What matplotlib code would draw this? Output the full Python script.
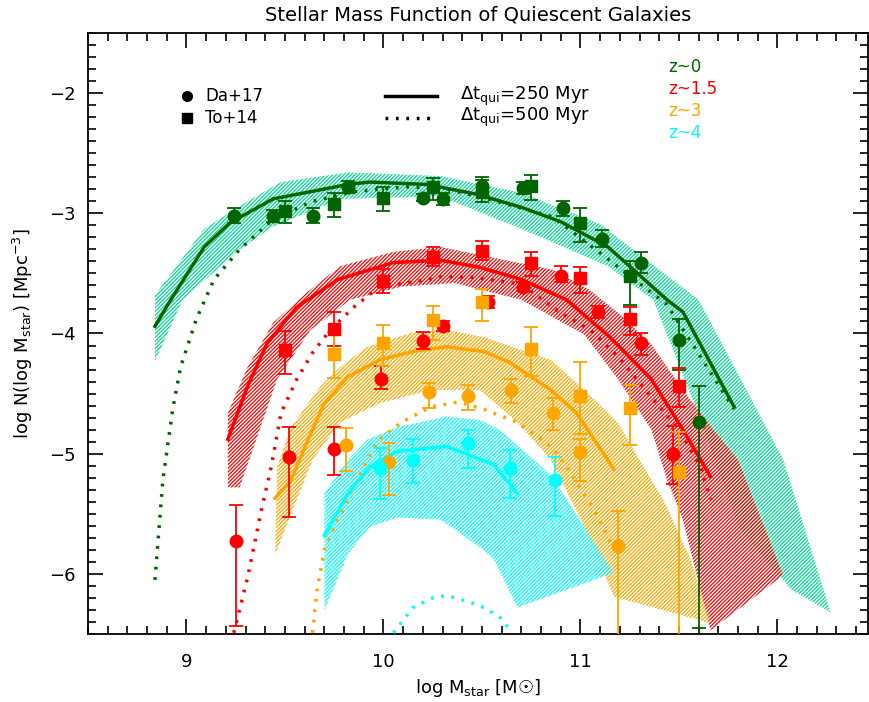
import matplotlib
matplotlib.use('Agg')

import matplotlib.pyplot as plt
import numpy as np
from matplotlib.ticker import MultipleLocator

plt.rcParams['font.family'] = ['DejaVu Sans']
plt.rcParams['hatch.linewidth'] = 0.9

# ---- model curves (dt_qui = 250 Myr, solid) ----
z0_x = [8.84, 8.92, 9.09, 9.22, 9.44, 9.82, 9.93, 10.22, 10.47, 10.70, 10.90, 11.14, 11.44, 11.52, 11.78]
z0_y = [-3.94, -3.72, -3.28, -3.08, -2.88, -2.76, -2.74, -2.76, -2.84, -2.95, -3.07, -3.28, -3.72, -3.82, -4.61]
z15_x = [9.21, 9.31, 9.41, 9.56, 9.77, 10.05, 10.29, 10.49, 10.70, 10.93, 11.15, 11.36, 11.52, 11.66]
z15_y = [-4.88, -4.44, -4.08, -3.78, -3.55, -3.41, -3.39, -3.45, -3.55, -3.72, -4.03, -4.38, -4.80, -5.19]
z3_x = [9.45, 9.53, 9.61, 9.70, 9.82, 9.98, 10.15, 10.32, 10.51, 10.64, 10.85, 10.98, 11.17]
z3_y = [-5.37, -5.22, -4.91, -4.58, -4.36, -4.22, -4.15, -4.11, -4.15, -4.24, -4.47, -4.66, -5.13]
z4_x = [9.70, 9.82, 9.93, 10.07, 10.32, 10.56, 10.68]
z4_y = [-5.68, -5.33, -5.11, -4.98, -4.94, -5.09, -5.33]

# ---- model curves (dt_qui = 500 Myr, dotted) ----
z0d_x = [8.84, 8.88, 8.93, 8.97, 9.05, 9.14, 9.27, 9.44, 9.64, 9.85, 10.12, 10.32, 10.53, 10.86, 11.10, 11.44, 11.78]
z0d_y = [-6.05, -5.22, -4.63, -4.28, -3.88, -3.55, -3.30, -3.05, -2.90, -2.82, -2.78, -2.80, -2.88, -3.03, -3.33, -3.76, -4.63]
z15d_x = [9.24, 9.31, 9.38, 9.43, 9.48, 9.56, 9.64, 9.73, 9.85, 9.98, 10.12, 10.29, 10.44, 10.70, 10.90, 11.05, 11.19, 11.36, 11.50, 11.61, 11.66]
z15d_y = [-6.49, -6.03, -5.47, -5.11, -4.66, -4.38, -4.16, -3.97, -3.78, -3.61, -3.58, -3.53, -3.53, -3.59, -3.83, -3.97, -4.19, -4.53, -4.80, -5.11, -5.38]
z3d_x = [9.64, 9.66, 9.70, 9.75, 9.82, 9.90, 9.98, 10.09, 10.24, 10.38, 10.51, 10.68, 10.85, 10.93, 11.07, 11.15]
z3d_y = [-6.49, -6.16, -5.80, -5.61, -5.38, -5.11, -4.88, -4.74, -4.61, -4.57, -4.63, -4.74, -4.94, -5.11, -5.47, -5.73]
z4d_x = [10.05, 10.15, 10.25, 10.32, 10.43, 10.51, 10.59, 10.65]
z4d_y = [-6.49, -6.28, -6.20, -6.18, -6.23, -6.28, -6.36, -6.48]

# ---- model bands (upper edge, lower edge) ----
z0_band_up_x = [8.84, 9.09, 9.27, 9.48, 9.82, 10.29, 10.70, 11.10, 11.60, 12.03, 12.27]
z0_band_up_y = [-3.68, -3.13, -2.94, -2.74, -2.66, -2.69, -2.83, -3.09, -3.72, -5.05, -6.32]
z0_band_lo_x = [8.84, 8.98, 9.11, 9.27, 9.44, 9.78, 10.29, 10.70, 11.14, 11.37, 11.43, 11.61, 11.81, 12.07]
z0_band_lo_y = [-4.23, -3.72, -3.53, -3.30, -3.11, -2.88, -2.86, -3.13, -3.44, -3.72, -3.97, -4.72, -5.63, -6.13]
z15_band_up_x = [9.21, 9.31, 9.44, 9.61, 9.78, 10.05, 10.29, 10.53, 10.86, 11.04, 11.20, 11.36, 11.52, 11.69, 11.80, 12.03]
z15_band_up_y = [-4.66, -4.28, -3.91, -3.66, -3.44, -3.32, -3.28, -3.36, -3.47, -3.63, -3.84, -4.09, -4.47, -4.83, -5.05, -6.01]
z15_band_lo_x = [9.21, 9.27, 9.46, 9.63, 9.83, 10.09, 10.36, 10.70, 11.02, 11.19, 11.36, 11.44, 11.52, 11.66]
z15_band_lo_y = [-5.28, -5.28, -4.38, -3.97, -3.72, -3.61, -3.58, -3.72, -4.01, -4.38, -4.80, -5.22, -5.55, -6.47]
z3_band_up_x = [9.46, 9.53, 9.68, 9.78, 9.92, 10.15, 10.32, 10.51, 10.85, 11.02, 11.19, 11.32, 11.42, 11.56, 11.66]
z3_band_up_y = [-5.11, -4.78, -4.44, -4.28, -4.11, -3.99, -3.97, -4.03, -4.22, -4.47, -4.74, -5.11, -5.38, -5.88, -6.41]
z3_band_lo_x = [9.45, 9.64, 9.78, 9.98, 10.24, 10.49, 10.68, 10.85, 11.02, 11.17]
z3_band_lo_y = [-5.84, -5.05, -4.74, -4.58, -4.47, -4.47, -4.74, -5.05, -5.61, -6.19]
z4_band_up_x = [9.70, 9.82, 9.92, 10.07, 10.32, 10.49, 10.59, 10.76, 10.85, 11.17]
z4_band_up_y = [-5.33, -5.05, -4.88, -4.78, -4.69, -4.72, -4.80, -5.05, -5.18, -5.99]
z4_band_lo_x = [9.70, 9.82, 9.93, 10.07, 10.29, 10.49, 10.56, 10.68]
z4_band_lo_y = [-6.30, -5.83, -5.61, -5.53, -5.55, -5.78, -5.88, -6.28]

# ---- observations: Da+17 (circles) and To+14 (squares); value, upper, lower ----
z0_da_x = [9.24, 9.44, 9.64, 9.82, 10.20, 10.30, 10.50, 10.71, 10.91, 11.11, 11.31, 11.50, 11.60]
z0_da_y = [-3.02, -3.02, -3.02, -2.78, -2.87, -2.88, -2.77, -2.79, -2.96, -3.21, -3.41, -4.05, -4.74]
z0_da_hi = [-2.96, -2.97, -2.96, -2.73, -2.84, -2.83, -2.70, -2.74, -2.90, -3.14, -3.32, -3.88, -4.44]
z0_da_lo = [-3.08, -3.07, -3.08, -2.83, -2.90, -2.93, -2.84, -2.84, -3.02, -3.28, -3.50, -4.30, -6.45]
z0_to_x = [9.50, 9.75, 10.00, 10.25, 10.50, 10.75, 11.00, 11.25]
z0_to_y = [-2.98, -2.92, -2.87, -2.78, -2.82, -2.77, -3.08, -3.52]
z0_to_hi = [-2.90, -2.83, -2.78, -2.71, -2.72, -2.68, -2.96, -3.40]
z0_to_lo = [-3.08, -3.03, -2.98, -2.89, -2.91, -2.89, -3.24, -3.76]

z15_da_x = [9.25, 9.52, 9.75, 9.99, 10.20, 10.30, 10.53, 10.71, 10.90, 11.09, 11.31, 11.47]
z15_da_y = [-5.73, -5.03, -4.96, -4.38, -4.06, -3.94, -3.74, -3.61, -3.52, -3.82, -4.08, -5.00]
z15_da_hi = [-5.43, -4.78, -4.78, -4.27, -3.99, -3.90, -3.69, -3.57, -3.44, -3.77, -4.00, -4.77]
z15_da_lo = [-6.43, -5.53, -5.18, -4.46, -4.13, -3.98, -3.79, -3.65, -3.57, -3.87, -4.18, -5.25]
z15_to_x = [9.50, 9.75, 10.00, 10.25, 10.50, 10.75, 11.00, 11.25, 11.50]
z15_to_y = [-4.14, -3.96, -3.56, -3.36, -3.31, -3.41, -3.54, -3.88, -4.44]
z15_to_hi = [-3.98, -3.82, -3.46, -3.28, -3.23, -3.32, -3.45, -3.78, -4.29]
z15_to_lo = [-4.34, -4.10, -3.66, -3.44, -3.39, -3.52, -3.66, -4.01, -4.61]

z3_da_x = [9.81, 10.03, 10.23, 10.43, 10.65, 10.86, 11.00, 11.19]
z3_da_y = [-4.93, -5.07, -4.49, -4.52, -4.47, -4.66, -4.99, -5.77]
z3_da_hi = [-4.79, -4.91, -4.41, -4.43, -4.38, -4.54, -4.88, -5.48]
z3_da_lo = [-5.14, -5.34, -4.62, -4.64, -4.58, -4.80, -5.23, -7.00]
z3_to_x = [9.75, 10.00, 10.25, 10.50, 10.75, 11.00, 11.25, 11.50]
z3_to_y = [-4.17, -4.08, -3.89, -3.74, -4.13, -4.52, -4.62, -5.15]
z3_to_hi = [-3.99, -3.93, -3.77, -3.63, -3.95, -4.24, -4.43, -4.82]
z3_to_lo = [-4.37, -4.27, -4.05, -3.90, -4.35, -4.84, -4.93, -7.00]

z4_da_x = [9.98, 10.15, 10.43, 10.64, 10.87]
z4_da_y = [-5.12, -5.05, -4.91, -5.12, -5.22]
z4_da_hi = [-4.95, -4.88, -4.80, -4.97, -5.03]
z4_da_lo = [-5.38, -5.24, -5.12, -5.37, -5.52]

col_green = '#006400'
col_green_band = '#00dd90'
col_red = '#ff0000'
col_orange = '#ffa500'
col_cyan = '#00ffff'


def band(ax, xu, yu, xl, yl, color):
    px = list(xu) + list(xl)[::-1]
    py = list(yu) + list(yl)[::-1]
    ax.fill(px, py, facecolor='none', edgecolor=color, hatch='/' * 9, lw=0, zorder=1)


def obs(ax, x, y, hi, lo, color, marker):
    y = np.array(y)
    err = [y - np.array(lo), np.array(hi) - y]
    ax.errorbar(x, y, yerr=err, fmt=marker, color=color, ms=9, mec=color,
                elinewidth=1.3, capsize=5, capthick=1.3, zorder=4)


fig = plt.figure(figsize=(8.7, 7.02), dpi=100)
ax = fig.add_axes([88 / 870, 68 / 702, 780 / 870, 601 / 702])

band(ax, z0_band_up_x, z0_band_up_y, z0_band_lo_x, z0_band_lo_y, col_green_band)
band(ax, z15_band_up_x, z15_band_up_y, z15_band_lo_x, z15_band_lo_y, col_red)
band(ax, z3_band_up_x, z3_band_up_y, z3_band_lo_x, z3_band_lo_y, col_orange)
band(ax, z4_band_up_x, z4_band_up_y, z4_band_lo_x, z4_band_lo_y, col_cyan)

for xs, ys, xd, yd, c in [(z0_x, z0_y, z0d_x, z0d_y, col_green),
                          (z15_x, z15_y, z15d_x, z15d_y, col_red),
                          (z3_x, z3_y, z3d_x, z3d_y, col_orange),
                          (z4_x, z4_y, z4d_x, z4d_y, col_cyan)]:
    ax.plot(xs, ys, color=c, lw=2.5, zorder=3)
    ax.plot(xd, yd, color=c, lw=2.5, ls=(0, (0.8, 2.2)), zorder=3)

obs(ax, z0_da_x, z0_da_y, z0_da_hi, z0_da_lo, col_green, 'o')
obs(ax, z0_to_x, z0_to_y, z0_to_hi, z0_to_lo, col_green, 's')
obs(ax, z15_da_x, z15_da_y, z15_da_hi, z15_da_lo, col_red, 'o')
obs(ax, z15_to_x, z15_to_y, z15_to_hi, z15_to_lo, col_red, 's')
obs(ax, z3_da_x, z3_da_y, z3_da_hi, z3_da_lo, col_orange, 'o')
obs(ax, z3_to_x, z3_to_y, z3_to_hi, z3_to_lo, col_orange, 's')
obs(ax, z4_da_x, z4_da_y, z4_da_hi, z4_da_lo, col_cyan, 'o')

ax.set_xlim(8.5, 12.46)
ax.set_ylim(-6.5, -1.5)
ax.xaxis.set_major_locator(MultipleLocator(1))
ax.xaxis.set_minor_locator(MultipleLocator(0.1))
ax.yaxis.set_major_locator(MultipleLocator(1))
ax.yaxis.set_minor_locator(MultipleLocator(0.1))
ax.tick_params(which='both', direction='in', top=True, right=True, labelsize=13, width=1.2)
ax.tick_params(axis='x', which='major', length=11, pad=14)
ax.tick_params(axis='y', which='major', length=11, pad=9)
ax.tick_params(which='minor', length=6)
ax.yaxis.set_major_formatter(plt.FuncFormatter(lambda v, p: '\u2212%d' % abs(v) if v < 0 else '%d' % v))
for s in ax.spines.values():
    s.set_linewidth(1.3)

ax.set_title('Stellar Mass Function of Quiescent Galaxies', fontsize=14, pad=9)
ax.set_xlabel('log M$_{\\mathrm{star}}$ [M\u2609]', fontsize=13, labelpad=4)
ax.set_ylabel(r'log N(log M$_{\mathrm{star}}$) [Mpc$^{-3}$]', fontsize=13, labelpad=10)

# legend, drawn by hand
tr = ax.transAxes
ax.plot([0.127], [0.895], 'o', color='k', ms=7, transform=tr)
ax.plot([0.127], [0.859], 's', color='k', ms=7, transform=tr)
ax.text(0.150, 0.895, 'Da+17', fontsize=12, va='center', transform=tr)
ax.text(0.150, 0.859, 'To+14', fontsize=12, va='center', transform=tr)
ax.plot([0.381, 0.447], [0.895, 0.895], color='k', lw=2.5, transform=tr)
ax.plot([0.381, 0.447], [0.859, 0.859], color='k', lw=2.5, ls=(0, (0.8, 2.2)), transform=tr)
ax.text(0.477, 0.895, r'$\Delta$t$_{\mathrm{qui}}$=250 Myr', fontsize=13, va='center', transform=tr)
ax.text(0.477, 0.859, r'$\Delta$t$_{\mathrm{qui}}$=500 Myr', fontsize=13, va='center', transform=tr)
for lab, c, yy in [('z~0', col_green, 0.943), ('z~1.5', col_red, 0.907),
                   ('z~3', col_orange, 0.870), ('z~4', col_cyan, 0.834)]:
    ax.text(0.744, yy, lab, color=c, fontsize=12, va='center', transform=tr)

fig.savefig('out.png', dpi=100)
